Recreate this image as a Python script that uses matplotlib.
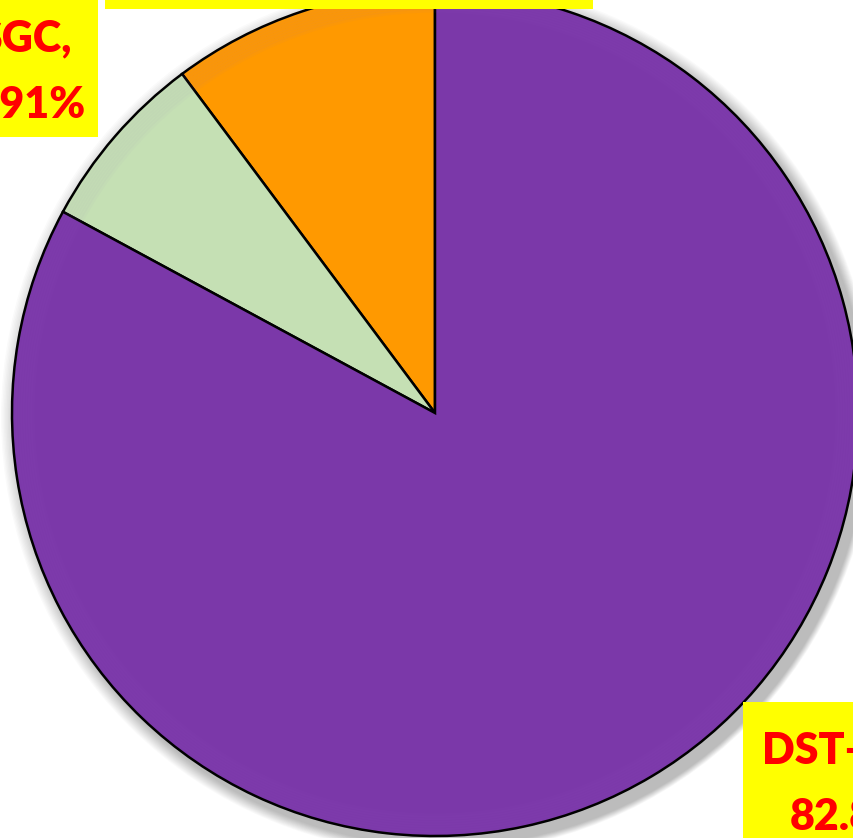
import matplotlib
matplotlib.use("Agg")
import matplotlib.pyplot as plt
from matplotlib.patches import Circle, Rectangle

categories = ["DST-GC", "SGC", "DST-NGC"]
values = [10.20, 6.91, 82.89]
colors = ["#FF9900", "#C5E0B4", "#7B38A9"]
label_lines = ["DST-GC, 10.20%", "SGC,\n6.91%", "DST-NGC,\n82.89%"]

W, H = 854, 838
fig = plt.figure(figsize=(W / 100, H / 100), dpi=100)
ax = fig.add_axes([0, 0, 1, 1])

cx, cy, r = 435, 413, 423

# soft shadow
for i in range(14):
    ax.add_patch(Circle((cx + 3 + i * 0.4, cy + 4 + i * 0.4), r + 14 - i,
                        color="black", alpha=0.018, lw=0, zorder=1))

# y axis is inverted below, so clockwise in data = counter-clockwise on screen
wedges, _ = ax.pie(values, colors=colors, startangle=-90, counterclock=False,
                   center=(cx, cy), radius=r, frame=True,
                   wedgeprops=dict(edgecolor="black", linewidth=1.8))
for w in wedges:
    w.set_zorder(3)
ax.set_xlim(0, W)
ax.set_ylim(H, 0)
ax.set_aspect("equal")
ax.axis("off")

# subtle highlight on rim
for i in range(8):
    ax.add_patch(Circle((cx, cy), r - 3 - i * 2.5, facecolor="none",
                        edgecolor="#A070D0", alpha=0.035, lw=3, zorder=4))

font = dict(family="Lato", weight="heavy", color="#FF0000", fontsize=31)

# label boxes
boxes = [(105, -120, 488, 129), (-60, 0, 158, 137), (743, 702, 220, 180)]
text_pos = [(349, -40), (25, 72), (863, 784)]
for (bx, by, bw, bh), (tx, ty), txt in zip(boxes, text_pos, label_lines):
    ax.add_patch(Rectangle((bx, by), bw, bh, facecolor="#FFFF00", edgecolor="none", zorder=6))
    ax.text(tx, ty, txt, ha="center", va="center", multialignment="center",
            linespacing=1.8, zorder=7, **font)

fig.savefig("out.png", dpi=100)
